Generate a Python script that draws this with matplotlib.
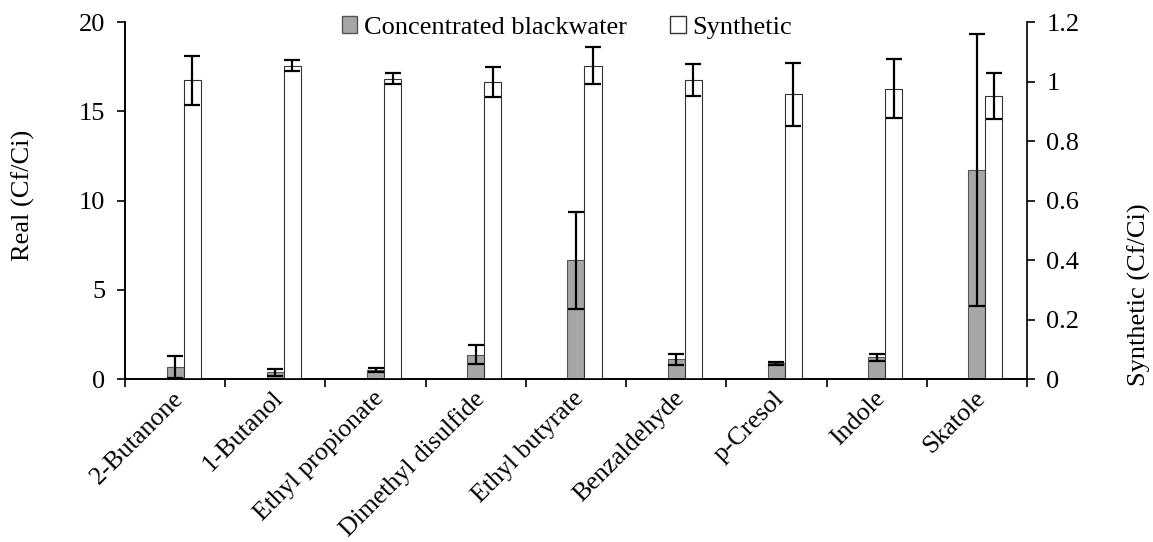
import matplotlib.pyplot as plt
import matplotlib.patches as mpatches
import numpy as np

plt.rcParams['font.family'] = ['Liberation Serif', 'DejaVu Serif']
plt.rcParams['font.size'] = 19

compounds = ['2-Butanone', '1-Butanol', 'Ethyl propionate', 'Dimethyl disulfide',
             'Ethyl butyrate', 'Benzaldehyde', 'p-Cresol', 'Indole', 'Skatole']

# concentrated blackwater (left axis)
real_mean = [0.66, 0.37, 0.49, 1.36, 6.65, 1.10, 0.88, 1.21, 11.71]
real_err = [0.63, 0.19, 0.10, 0.52, 2.70, 0.30, 0.07, 0.19, 7.60]

# synthetic (right axis)
syn_mean = [1.004, 1.053, 1.009, 0.999, 1.053, 1.004, 0.957, 0.976, 0.952]
syn_err = [0.083, 0.018, 0.018, 0.050, 0.062, 0.054, 0.105, 0.100, 0.077]

fig = plt.figure(figsize=(11.53, 5.42), dpi=100)
ax = fig.add_axes([0.1084, 0.3007, 0.7823, 0.6587])
ax2 = ax.twinx()

x = np.arange(len(compounds))
w = 0.17
ekw = dict(ecolor='black', elinewidth=1.6, capsize=6, capthick=1.6)

ax.bar(x, real_mean, w, yerr=real_err, color='#a6a6a6', edgecolor='#555555',
       linewidth=0.8, error_kw=ekw, zorder=2)
ax2.bar(x + w, syn_mean, w, yerr=syn_err, color='white', edgecolor='#333333',
        linewidth=0.8, error_kw=ekw, zorder=2)

ax.set_xlim(-0.5, len(compounds) - 0.5)
ax.set_ylim(0, 20)
ax2.set_ylim(0, 1.2)
ax.set_yticks([0, 5, 10, 15, 20])
ax2.set_yticks([0, 0.2, 0.4, 0.6, 0.8, 1.0, 1.2])
ax2.set_yticklabels(['0', '0.2', '0.4', '0.6', '0.8', '1', '1.2'])

ax.set_xticks(np.arange(len(compounds) + 1) - 0.5)
ax.set_xticklabels([])
ax.tick_params(axis='x', length=6, width=1.2, direction='out')
ax.tick_params(axis='y', length=6, width=1.2, direction='out', labelsize=19, pad=8)
ax2.tick_params(axis='y', length=6, width=1.2, direction='out', labelsize=19, pad=8)

for i, name in enumerate(compounds):
    ax.text(i - 0.03, -0.45, name, rotation=45, ha='right', va='top',
            rotation_mode='anchor', fontsize=18.6)

for a in (ax, ax2):
    a.spines['top'].set_visible(False)
    for s in ('left', 'right', 'bottom'):
        a.spines[s].set_linewidth(1.2)
ax.spines['right'].set_visible(False)

ax.set_ylabel('Real (Cf/Ci)', fontsize=19)
ax.yaxis.set_label_coords(-0.0998, 0.515)
ax2.set_ylabel('Synthetic (Cf/Ci)', fontsize=19)
ax2.yaxis.set_label_coords(1.111, 0.235)

handles = [mpatches.Patch(facecolor='#a6a6a6', edgecolor='#555555', label='Concentrated blackwater'),
           mpatches.Patch(facecolor='white', edgecolor='#333333', label='Synthetic')]
ax.legend(handles=handles, loc='upper center', bbox_to_anchor=(0.49, 1.045), ncol=2,
          frameon=False, handlelength=0.6, handleheight=0.6, handletextpad=0.25,
          columnspacing=1.63, fontsize=19, borderaxespad=0)

fig.savefig('out.png', dpi=100)
